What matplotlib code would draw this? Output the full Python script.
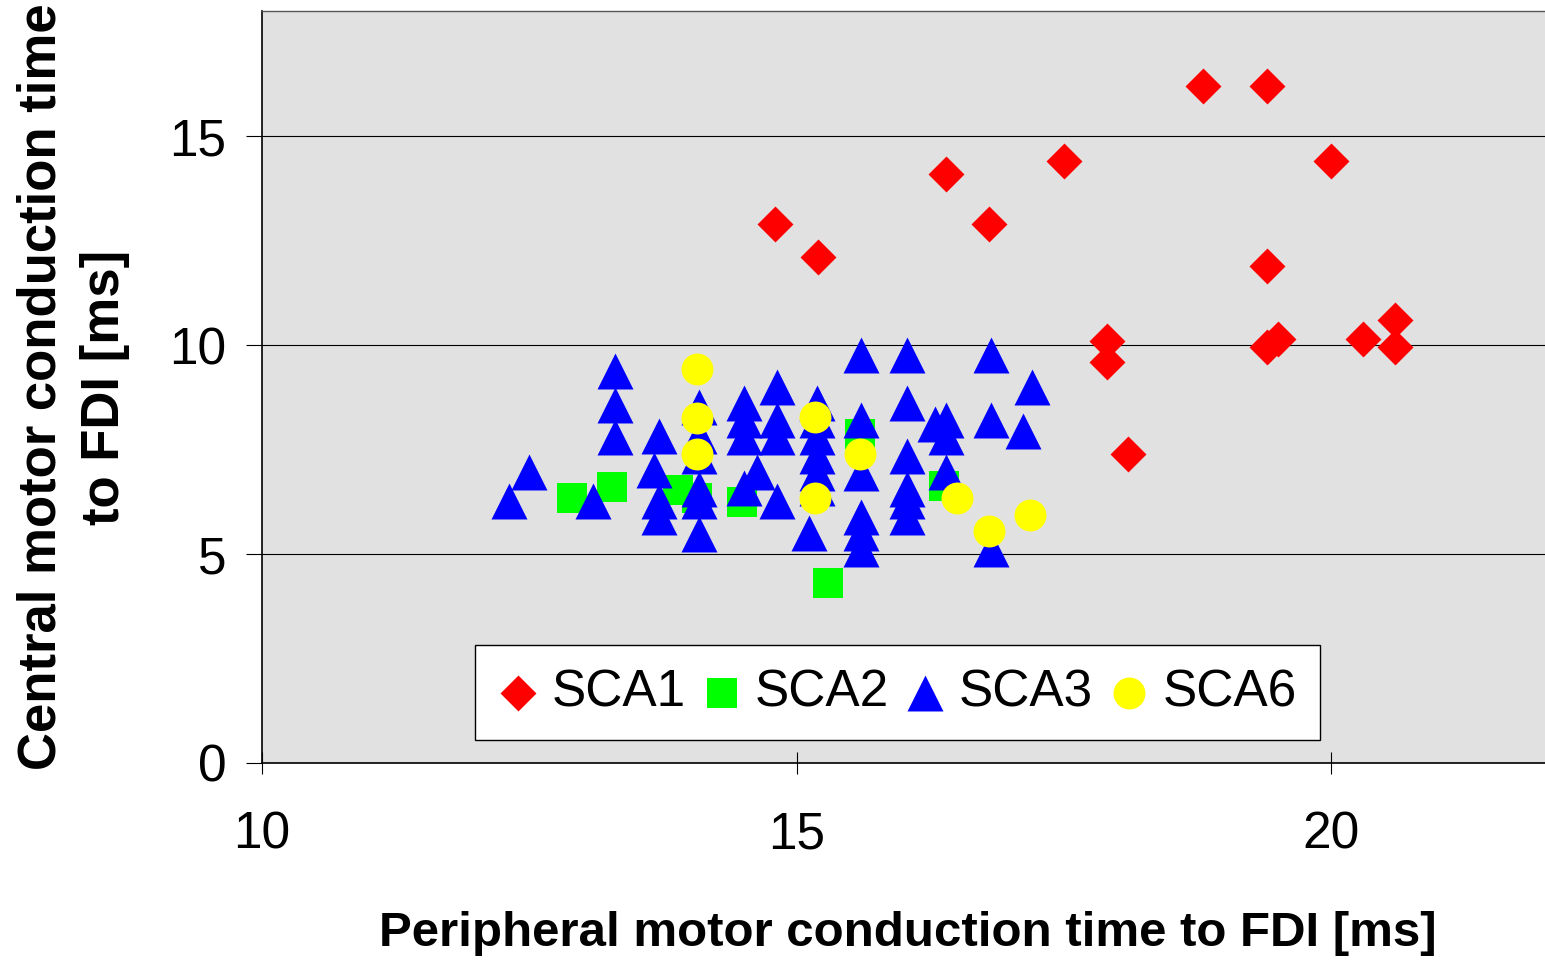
import matplotlib
matplotlib.use("Agg")
import matplotlib.pyplot as plt

plt.rcParams['font.family'] = ['Liberation Sans', 'DejaVu Sans']

# peripheral (x) and central (y) motor conduction times per genotype, ms
sca1_x = [14.8, 15.2, 16.4, 16.8, 17.5, 18.8, 19.4, 20.0, 19.4, 17.9, 17.9, 18.1,
          19.4, 19.5, 20.3, 20.6, 20.6]
sca1_y = [12.9, 12.1, 14.1, 12.9, 14.4, 16.2, 16.2, 14.4, 11.9, 10.1, 9.6, 7.4,
          9.95, 10.15, 10.15, 10.6, 9.95]

sca2_x = [12.9, 13.27, 13.89, 14.07, 14.49, 15.29, 15.59, 16.38]
sca2_y = [6.34, 6.6, 6.53, 6.34, 6.24, 4.31, 7.87, 6.63]

sca3_x = [12.31, 12.5, 13.1, 13.3, 13.3, 13.3, 13.71, 13.67, 13.71, 13.71,
          14.09, 14.09, 14.09, 14.09, 14.09, 14.09,
          14.51, 14.51, 14.51, 14.51, 14.63,
          14.82, 14.82, 14.82, 14.82,
          15.19, 15.19, 15.19, 15.19, 15.19, 15.19, 15.12,
          15.6, 15.6, 15.6, 15.6, 15.6, 15.6,
          16.03, 16.03, 16.03, 16.03, 16.03, 16.03,
          16.29, 16.4, 16.4, 16.4,
          16.82, 16.82, 16.82, 17.2, 17.12]
sca3_y = [6.27, 6.96, 6.27, 9.38, 8.56, 7.8, 7.82, 7.01, 6.27, 5.88,
          8.52, 7.82, 7.34, 6.56, 6.27, 5.48,
          8.61, 8.2, 7.8, 6.58, 6.96,
          9.0, 8.22, 7.8, 6.27,
          8.61, 8.22, 7.8, 7.34, 6.94, 6.58, 5.5,
          9.76, 8.22, 6.94, 5.88, 5.5, 5.12,
          9.76, 8.61, 7.34, 6.55, 6.27, 5.88,
          8.11, 8.22, 7.8, 6.96,
          9.76, 8.22, 5.12, 9.0, 7.94]

sca6_x = [14.07, 14.07, 14.07, 15.17, 15.17, 15.59, 16.5, 16.8, 17.18]
sca6_y = [9.43, 8.25, 7.39, 8.28, 6.34, 7.39, 6.34, 5.55, 5.93]

x_ticks = [10, 15, 20]
y_ticks = [0, 5, 10, 15]

fig = plt.figure(figsize=(15.45, 9.6), dpi=100)
ax = fig.add_axes([262 / 1545, 197 / 960, 1283 / 1545, 752 / 960])
ax.set_facecolor('#e1e1e1')

ax.scatter(sca1_x, sca1_y, marker='D', s=18.3 ** 2, color='#ff0000', linewidths=0, label='SCA1', zorder=3)
ax.scatter(sca2_x, sca2_y, marker='s', s=22.3 ** 2, color='#00ff00', linewidths=0, label='SCA2', zorder=3)
ax.scatter(sca3_x, sca3_y, marker='^', s=25.9 ** 2, color='#0000ff', linewidths=0, label='SCA3', zorder=3)
ax.scatter(sca6_x, sca6_y, marker='o', s=23 ** 2, color='#ffff00', linewidths=0, label='SCA6', zorder=3)

ax.set_xlim(10, 22)
ax.set_ylim(0, 18)
ax.set_xticks(x_ticks)
ax.set_yticks(y_ticks)
ax.yaxis.grid(True, color='black', linewidth=0.8)
ax.set_axisbelow(True)

ax.tick_params(axis='y', direction='out', length=11.5, width=0.8, pad=14, labelsize=37)
ax.tick_params(axis='x', direction='inout', length=16, width=0.8, pad=26, labelsize=37)

for side in ['left', 'bottom']:
    ax.spines[side].set_color('black')
    ax.spines[side].set_linewidth(1.2)
ax.spines['top'].set_color('#555555')
ax.spines['top'].set_linewidth(1.0)
ax.spines['right'].set_visible(False)

ax.set_xlabel('Peripheral motor conduction time to FDI [ms]', fontsize=35.5, fontweight='bold')
ax.xaxis.set_label_coords(0.503, -0.197)
ax.set_ylabel('Central motor conduction time\nto FDI [ms]', fontsize=38, fontweight='bold',
              linespacing=1.33)
ax.yaxis.set_label_coords(-0.103, 0.5)

leg = ax.legend(loc='lower center', bbox_to_anchor=(0.495, 0.03), ncol=4, fontsize=37,
                frameon=True, fancybox=False, edgecolor='black', framealpha=1,
                handlelength=0.8, handletextpad=0.25, columnspacing=0.3, borderpad=0.45,
                borderaxespad=0)
leg.get_frame().set_linewidth(1.0)

fig.savefig('out.png', dpi=100)
